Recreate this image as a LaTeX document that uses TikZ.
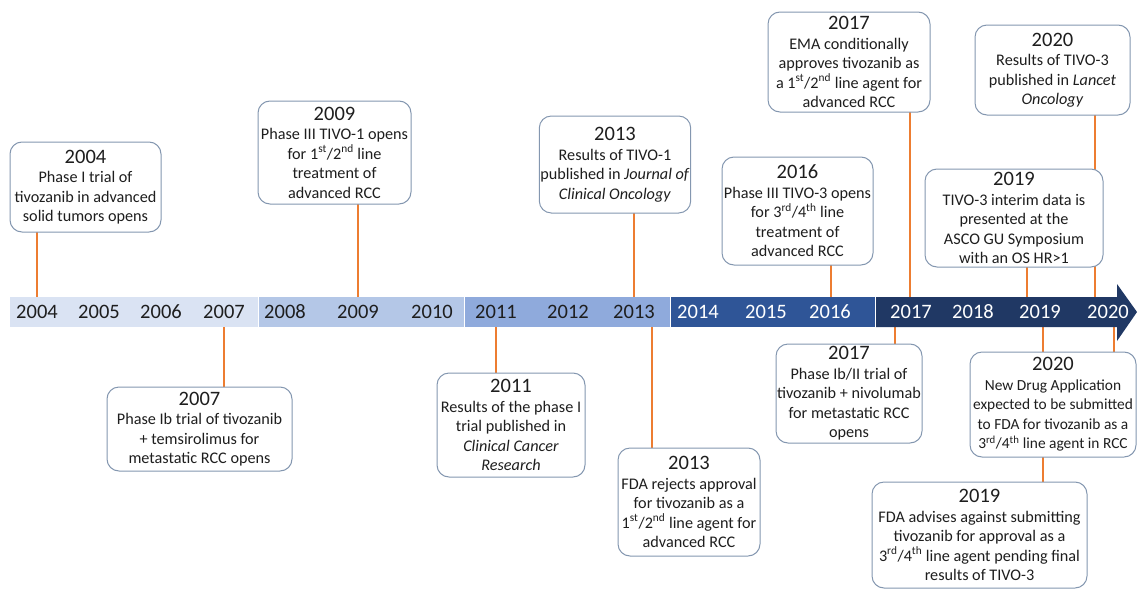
\documentclass[tikz,border=0pt]{standalone}
\usepackage{fontspec}
\setmainfont{Carlito}
\usetikzlibrary{backgrounds}
\definecolor{segA}{HTML}{DAE3F3}
\definecolor{segB}{HTML}{B4C7E7}
\definecolor{segC}{HTML}{8FAADC}
\definecolor{segD}{HTML}{2F5597}
\definecolor{segE}{HTML}{203864}
\definecolor{boxline}{HTML}{8497B0}
\definecolor{conline}{HTML}{ED7D31}
\definecolor{txt}{HTML}{1E1E1E}
\tikzset{
  evbox/.style={draw=boxline, line width=1pt, rounded corners=12pt, fill=white,
    align=center, inner sep=1pt, outer sep=0pt, text=txt,
    font=\fontsize{16.2}{19.5}\selectfont},
  conn/.style={draw=conline, line width=1.4pt},
  darkyear/.style={font=\fontsize{20.5}{24}\selectfont, inner sep=0pt, text=txt},
  lightyear/.style={font=\fontsize{20.5}{24}\selectfont, inner sep=0pt, text=white},
}
\newcommand{\yr}[1]{{\fontsize{20.5}{21}\selectfont #1}\\}
\newcommand{\sps}[1]{\textsuperscript{#1}}
\begin{document}
\begin{tikzpicture}[x=1pt,y=-1pt]
\useasboundingbox (0,0) rectangle (1137,589);
% bar
\fill[segA] (10,297) rectangle (258,327);
\fill[segB] (259,297) rectangle (464,327);
\fill[segC] (465,297) rectangle (670,327);
\fill[segD] (671,297) rectangle (875,327);
\fill[segE] (876,297) -- (1117,297) -- (1117,284) -- (1137,312) -- (1117,341) -- (1117,327) -- (876,327) -- cycle;
% year labels
\node[darkyear] (y2004) at (37,312) {2004};
\node[darkyear] (y2005) at (99,312) {2005};
\node[darkyear] (y2006) at (161,312) {2006};
\node[darkyear] (y2007) at (224,312) {2007};
\node[darkyear] (y2008) at (285,312) {2008};
\node[darkyear] (y2009) at (358,312) {2009};
\node[darkyear] (y2010) at (432,312) {2010};
\node[darkyear] (y2011) at (496,312) {2011};
\node[darkyear] (y2012) at (568,312) {2012};
\node[darkyear] (y2013) at (634,312) {2013};
\node[lightyear] (y2014) at (698,312) {2014};
\node[lightyear] (y2015) at (766,312) {2015};
\node[lightyear] (y2016) at (830,312) {2016};
\node[lightyear] (y2017) at (911,312) {2017};
\node[lightyear] (y2018) at (973,312) {2018};
\node[lightyear] (y2019) at (1040,312) {2019};
\node[lightyear] (y2020) at (1108,312) {2020};
% connector end points on the bar
\coordinate (t2004) at (37,297);
\coordinate (t2009) at (358,297);
\coordinate (t2013) at (634,297);
\coordinate (t2016) at (831,297);
\coordinate (t2017) at (910,297);
\coordinate (t2019) at (1027,297);
\coordinate (t2020) at (1095,297);
\coordinate (u2007) at (224,327);
\coordinate (u2011) at (496,327);
\coordinate (u2013) at (652,327);
\coordinate (u2017) at (895,327);
\coordinate (u2019) at (1043,327);
\coordinate (u2020) at (1114,327);
% upper boxes
\node[evbox, minimum width=151pt, minimum height=90pt] (b2004) at (85.5,187)
  {\yr{2004}Phase I trial of\\tivozanib in advanced\\solid tumors opens};
\node[evbox, minimum width=153pt, minimum height=103pt] (b2009) at (334.5,152.5)
  {\yr{2009}Phase III TIVO-1 opens\\for 1\sps{st}/2\sps{nd} line\\treatment of\\advanced RCC};
\node[evbox, minimum width=150pt, minimum height=97pt] (b2013a) at (615,164.5)
  {\yr{2013}Results of TIVO-1\\published in \textit{Journal of}\\\textit{Clinical Oncology}};
\node[evbox, minimum width=151pt, minimum height=108pt] (b2016) at (797.5,211)
  {\yr{2016}Phase III TIVO-3 opens\\for 3\sps{rd}/4\sps{th} line\\treatment of\\advanced RCC};
\node[evbox, minimum width=162pt, minimum height=100pt] (b2017a) at (849,62)
  {\yr{2017}EMA conditionally\\approves tivozanib as\\a 1\sps{st}/2\sps{nd} line agent for\\advanced RCC};
\node[evbox, minimum width=155pt, minimum height=90pt] (b2020a) at (1052.5,70)
  {\yr{2020}Results of TIVO-3\\published in \textit{Lancet}\\\textit{Oncology}};
\node[evbox, minimum width=178pt, minimum height=98pt] (b2019a) at (1014,218)
  {\yr{2019}TIVO-3 interim data is\\presented at the\\ASCO GU Symposium\\with an OS HR>1};
% lower boxes
\node[evbox, minimum width=185pt, minimum height=84pt] (b2007) at (199.5,429)
  {\yr{2007}Phase Ib trial of tivozanib\\+ temsirolimus for\\metastatic RCC opens};
\node[evbox, minimum width=148pt, minimum height=104pt] (b2011) at (511,425)
  {\yr{2011}Results of the phase I\\trial published in\\\textit{Clinical Cancer}\\\textit{Research}};
\node[evbox, minimum width=142pt, minimum height=108pt] (b2013b) at (689,502)
  {\yr{2013}FDA rejects approval\\for tivozanib as a\\1\sps{st}/2\sps{nd} line agent for\\advanced RCC};
\node[evbox, minimum width=146pt, minimum height=99pt] (b2017b) at (849,393.5)
  {\yr{2017}Phase Ib/II trial of\\tivozanib + nivolumab\\for metastatic RCC\\opens};
\node[evbox, minimum width=215pt, minimum height=106pt] (b2019b) at (979.5,535)
  {\yr{2019}FDA advises against submitting\\tivozanib for approval as a\\3\sps{rd}/4\sps{th} line agent pending final\\results of TIVO-3};
\node[evbox, minimum width=166pt, minimum height=105pt,
      font=\fontsize{15.4}{19.5}\selectfont] (b2020b) at (1053,404.5)
  {\yr{2020}New Drug Application\\expected to be submitted\\to FDA for tivozanib as a\\3\sps{rd}/4\sps{th} line agent in RCC};
% connectors
\begin{pgfonlayer}{background}
\draw[conn] (b2004.south -| t2004) -- (t2004);
\draw[conn] (b2009.south -| t2009) -- (t2009);
\draw[conn] (b2013a.south -| t2013) -- (t2013);
\draw[conn] (b2016.south -| t2016) -- (t2016);
\draw[conn] (b2017a.south -| t2017) -- (t2017);
\draw[conn] (b2019a.south -| t2019) -- (t2019);
\draw[conn] (b2020a.south -| t2020) -- (t2020);
\draw[conn] (u2007) -- (b2007.north -| u2007);
\draw[conn] (u2011) -- (b2011.north -| u2011);
\draw[conn] (u2013) -- (b2013b.north -| u2013);
\draw[conn] (u2017) -- (b2017b.north -| u2017);
\draw[conn] (u2019) -- (b2019b.north -| u2019);
\draw[conn] (u2020) -- (b2020b.north -| u2020);
\end{pgfonlayer}
\end{tikzpicture}
\end{document}
